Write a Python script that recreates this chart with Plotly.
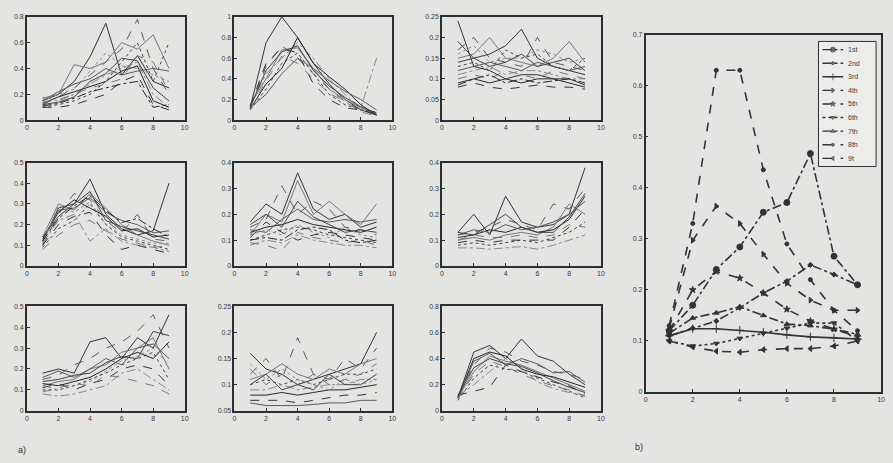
import plotly.graph_objects as go

W, H = 893, 463
x_steps = [1, 2, 3, 4, 5, 6, 7, 8, 9]

panel1 = [
    [0.15, 0.20, 0.30, 0.49, 0.75, 0.35, 0.50, 0.30, 0.25],
    [0.12, 0.18, 0.25, 0.35, 0.45, 0.55, 0.78, 0.40, 0.20],
    [0.17, 0.20, 0.43, 0.40, 0.45, 0.60, 0.55, 0.66, 0.40],
    [0.10, 0.12, 0.15, 0.20, 0.30, 0.45, 0.60, 0.30, 0.60],
    [0.18, 0.15, 0.20, 0.28, 0.35, 0.40, 0.45, 0.20, 0.10],
    [0.13, 0.18, 0.22, 0.26, 0.30, 0.38, 0.42, 0.15, 0.10],
    [0.10, 0.10, 0.12, 0.16, 0.20, 0.30, 0.35, 0.12, 0.08],
    [0.15, 0.22, 0.28, 0.32, 0.40, 0.35, 0.38, 0.40, 0.38],
    [0.14, 0.16, 0.20, 0.25, 0.28, 0.32, 0.50, 0.45, 0.22],
    [0.12, 0.14, 0.18, 0.30, 0.36, 0.48, 0.46, 0.25, 0.15],
    [0.16, 0.20, 0.24, 0.38, 0.52, 0.42, 0.40, 0.35, 0.30],
    [0.11, 0.13, 0.17, 0.22, 0.25, 0.28, 0.30, 0.10, 0.12],
]
panel2 = [
    [0.12, 0.75, 1.00, 0.80, 0.55, 0.35, 0.20, 0.10, 0.05],
    [0.12, 0.52, 0.72, 0.60, 0.45, 0.30, 0.18, 0.10, 0.05],
    [0.15, 0.40, 0.68, 0.70, 0.50, 0.30, 0.20, 0.12, 0.06],
    [0.10, 0.30, 0.55, 0.65, 0.45, 0.25, 0.15, 0.10, 0.08],
    [0.13, 0.45, 0.60, 0.75, 0.60, 0.40, 0.25, 0.12, 0.60],
    [0.11, 0.35, 0.50, 0.80, 0.55, 0.42, 0.30, 0.15, 0.05],
    [0.14, 0.55, 0.70, 0.65, 0.35, 0.20, 0.12, 0.10, 0.06],
    [0.12, 0.25, 0.45, 0.60, 0.50, 0.38, 0.28, 0.20, 0.10],
    [0.10, 0.38, 0.62, 0.55, 0.40, 0.26, 0.18, 0.08, 0.04],
    [0.13, 0.48, 0.66, 0.72, 0.48, 0.33, 0.22, 0.13, 0.07],
]
panel3 = [
    [0.19, 0.15, 0.16, 0.18, 0.22, 0.15, 0.13, 0.12, 0.11],
    [0.17, 0.20, 0.15, 0.14, 0.13, 0.20, 0.14, 0.13, 0.12],
    [0.15, 0.16, 0.20, 0.15, 0.14, 0.13, 0.15, 0.19, 0.14],
    [0.13, 0.14, 0.12, 0.17, 0.15, 0.16, 0.13, 0.12, 0.15],
    [0.11, 0.12, 0.13, 0.11, 0.12, 0.12, 0.11, 0.10, 0.10],
    [0.09, 0.10, 0.09, 0.10, 0.09, 0.10, 0.10, 0.09, 0.08],
    [0.08, 0.09, 0.08, 0.075, 0.08, 0.085, 0.08, 0.08, 0.075],
    [0.12, 0.13, 0.14, 0.13, 0.12, 0.14, 0.13, 0.12, 0.13],
    [0.10, 0.11, 0.10, 0.12, 0.11, 0.10, 0.12, 0.11, 0.10],
    [0.14, 0.15, 0.13, 0.14, 0.16, 0.13, 0.14, 0.15, 0.12],
    [0.16, 0.18, 0.14, 0.15, 0.15, 0.17, 0.16, 0.14, 0.15],
    [0.085, 0.10, 0.11, 0.09, 0.10, 0.09, 0.095, 0.10, 0.09],
    [0.24, 0.13, 0.12, 0.10, 0.11, 0.11, 0.10, 0.10, 0.085],
]
panel4 = [
    [0.12, 0.28, 0.30, 0.42, 0.25, 0.18, 0.15, 0.17, 0.40],
    [0.10, 0.25, 0.35, 0.32, 0.22, 0.16, 0.25, 0.13, 0.12],
    [0.14, 0.30, 0.27, 0.35, 0.28, 0.20, 0.15, 0.12, 0.10],
    [0.09, 0.18, 0.22, 0.30, 0.20, 0.14, 0.12, 0.10, 0.08],
    [0.11, 0.22, 0.25, 0.12, 0.18, 0.12, 0.10, 0.09, 0.07],
    [0.13, 0.26, 0.32, 0.28, 0.24, 0.17, 0.18, 0.14, 0.15],
    [0.10, 0.20, 0.24, 0.26, 0.15, 0.08, 0.10, 0.08, 0.06],
    [0.12, 0.27, 0.28, 0.33, 0.26, 0.22, 0.20, 0.16, 0.17],
    [0.08, 0.15, 0.20, 0.22, 0.17, 0.13, 0.11, 0.09, 0.10],
    [0.14, 0.24, 0.30, 0.36, 0.22, 0.19, 0.17, 0.15, 0.13],
    [0.11, 0.29, 0.26, 0.31, 0.20, 0.15, 0.13, 0.11, 0.11],
    [0.12, 0.23, 0.29, 0.34, 0.27, 0.21, 0.23, 0.18, 0.14],
]
panel5 = [
    [0.17, 0.24, 0.20, 0.36, 0.22, 0.18, 0.20, 0.15, 0.17],
    [0.15, 0.18, 0.31, 0.20, 0.25, 0.22, 0.15, 0.14, 0.12],
    [0.12, 0.20, 0.17, 0.33, 0.20, 0.25, 0.20, 0.16, 0.24],
    [0.10, 0.12, 0.14, 0.15, 0.14, 0.12, 0.11, 0.10, 0.09],
    [0.08, 0.10, 0.09, 0.12, 0.10, 0.09, 0.08, 0.08, 0.07],
    [0.13, 0.15, 0.16, 0.18, 0.16, 0.15, 0.14, 0.13, 0.15],
    [0.11, 0.17, 0.13, 0.10, 0.12, 0.13, 0.12, 0.11, 0.10],
    [0.14, 0.13, 0.18, 0.22, 0.18, 0.17, 0.18, 0.17, 0.18],
    [0.09, 0.08, 0.06, 0.13, 0.11, 0.10, 0.09, 0.10, 0.08],
    [0.16, 0.20, 0.15, 0.25, 0.19, 0.16, 0.13, 0.14, 0.13],
    [0.12, 0.14, 0.12, 0.16, 0.13, 0.11, 0.15, 0.12, 0.11],
    [0.10, 0.11, 0.10, 0.14, 0.15, 0.14, 0.10, 0.09, 0.10],
]
panel6 = [
    [0.13, 0.20, 0.12, 0.27, 0.17, 0.15, 0.16, 0.20, 0.38],
    [0.12, 0.13, 0.15, 0.18, 0.16, 0.14, 0.24, 0.22, 0.30],
    [0.10, 0.11, 0.10, 0.12, 0.13, 0.12, 0.15, 0.24, 0.20],
    [0.08, 0.09, 0.08, 0.09, 0.10, 0.09, 0.11, 0.13, 0.17],
    [0.07, 0.07, 0.065, 0.07, 0.075, 0.065, 0.08, 0.10, 0.12],
    [0.11, 0.12, 0.14, 0.13, 0.15, 0.13, 0.14, 0.18, 0.27],
    [0.09, 0.10, 0.09, 0.10, 0.10, 0.10, 0.10, 0.15, 0.22],
    [0.12, 0.14, 0.13, 0.16, 0.14, 0.15, 0.17, 0.20, 0.25],
    [0.10, 0.12, 0.11, 0.11, 0.12, 0.11, 0.12, 0.16, 0.15],
    [0.13, 0.12, 0.16, 0.20, 0.15, 0.13, 0.13, 0.19, 0.28],
]
panel7 = [
    [0.18, 0.20, 0.18, 0.33, 0.35, 0.25, 0.35, 0.30, 0.46],
    [0.15, 0.17, 0.22, 0.25, 0.30, 0.33, 0.38, 0.46, 0.30],
    [0.12, 0.14, 0.15, 0.20, 0.22, 0.28, 0.30, 0.35, 0.20],
    [0.10, 0.10, 0.12, 0.15, 0.18, 0.22, 0.25, 0.28, 0.15],
    [0.08, 0.07, 0.08, 0.10, 0.12, 0.18, 0.20, 0.15, 0.10],
    [0.13, 0.12, 0.14, 0.16, 0.20, 0.25, 0.28, 0.25, 0.33],
    [0.11, 0.13, 0.10, 0.13, 0.15, 0.20, 0.22, 0.20, 0.12],
    [0.16, 0.19, 0.16, 0.20, 0.25, 0.22, 0.30, 0.32, 0.25],
    [0.09, 0.11, 0.13, 0.12, 0.17, 0.16, 0.14, 0.12, 0.08],
    [0.14, 0.15, 0.17, 0.18, 0.23, 0.26, 0.25, 0.38, 0.36],
    [0.12, 0.10, 0.12, 0.14, 0.19, 0.24, 0.26, 0.30, 0.22],
]
panel8 = [
    [0.16, 0.13, 0.12, 0.10, 0.11, 0.12, 0.13, 0.14, 0.20],
    [0.12, 0.15, 0.11, 0.19, 0.12, 0.11, 0.15, 0.13, 0.17],
    [0.11, 0.12, 0.14, 0.12, 0.11, 0.13, 0.12, 0.14, 0.15],
    [0.10, 0.11, 0.10, 0.11, 0.10, 0.11, 0.12, 0.12, 0.13],
    [0.09, 0.09, 0.10, 0.09, 0.095, 0.10, 0.10, 0.11, 0.11],
    [0.08, 0.08, 0.085, 0.08, 0.085, 0.09, 0.09, 0.095, 0.10],
    [0.07, 0.07, 0.07, 0.065, 0.07, 0.075, 0.08, 0.08, 0.085],
    [0.065, 0.06, 0.06, 0.06, 0.062, 0.065, 0.065, 0.07, 0.07],
    [0.13, 0.10, 0.12, 0.10, 0.12, 0.10, 0.11, 0.12, 0.14],
    [0.10, 0.12, 0.09, 0.10, 0.09, 0.12, 0.10, 0.10, 0.12],
    [0.14, 0.11, 0.13, 0.11, 0.10, 0.09, 0.11, 0.10, 0.11],
]
panel9 = [
    [0.10, 0.45, 0.50, 0.40, 0.55, 0.42, 0.38, 0.28, 0.20],
    [0.12, 0.35, 0.48, 0.45, 0.38, 0.35, 0.30, 0.28, 0.24],
    [0.10, 0.30, 0.42, 0.38, 0.35, 0.30, 0.25, 0.20, 0.15],
    [0.08, 0.25, 0.35, 0.32, 0.30, 0.25, 0.20, 0.15, 0.10],
    [0.11, 0.20, 0.30, 0.40, 0.33, 0.22, 0.17, 0.14, 0.12],
    [0.10, 0.40, 0.45, 0.42, 0.32, 0.28, 0.26, 0.22, 0.18],
    [0.12, 0.15, 0.18, 0.35, 0.30, 0.26, 0.22, 0.19, 0.13],
    [0.10, 0.38, 0.44, 0.35, 0.40, 0.36, 0.29, 0.30, 0.22],
    [0.09, 0.28, 0.38, 0.34, 0.28, 0.23, 0.19, 0.16, 0.11],
    [0.11, 0.33, 0.40, 0.36, 0.34, 0.29, 0.23, 0.18, 0.14],
]
panels = [panel1, panel2, panel3, panel4, panel5, panel6, panel7, panel8, panel9]
y_ranges = [[0, 0.8], [0, 1], [0, 0.25], [0, 0.5], [0, 0.4], [0, 0.4], [0, 0.5], [0.05, 0.25], [0, 0.8]]
y_dticks = [0.2, 0.2, 0.05, 0.1, 0.1, 0.1, 0.1, 0.05, 0.2]

# panel b
legend_names = ["1st", "2nd", "3rd", "4th", "5th", "6th", "7th", "8th", "9t"]
b_series = [
    [0.12, 0.17, 0.24, 0.284, 0.352, 0.371, 0.467, 0.266, 0.21],
    [0.11, 0.125, 0.139, 0.165, 0.194, 0.217, 0.249, 0.23, 0.21],
    [0.11, 0.124, 0.124, 0.121, 0.117, 0.112, 0.108, 0.106, 0.104],
    [0.125, 0.297, 0.364, 0.33, 0.27, 0.213, 0.18, 0.16, 0.16],
    [0.12, 0.20, 0.236, 0.223, 0.194, 0.162, 0.139, 0.123, 0.108],
    [0.10, 0.09, 0.095, 0.105, 0.115, 0.125, 0.135, 0.135, 0.10],
    [0.115, 0.145, 0.155, 0.167, 0.15, 0.133, 0.13, 0.123, 0.113],
    [0.13, 0.33, 0.63, 0.63, 0.435, 0.29, 0.22, 0.16, 0.12],
    [0.10, 0.088, 0.08, 0.078, 0.083, 0.085, 0.085, 0.09, 0.10],
]
b_dash = ["dashdot", "dashdot", "solid", "dash", "dash", "dot", "dashdot", "dash", "dash"]
b_symbol = ["circle", "diamond", "cross-thin-open", "triangle-right", "star",
            "triangle-down", "triangle-up", "circle", "triangle-left"]
b_msize = [6, 4, 6, 5, 5, 5, 5, 4, 5]

BG = "#e4e4e2"
AX = "#2e2e2e"
FONT = "Liberation Sans, Arial, sans-serif"
TXT = "#3a3a3a"

col_px = [(25, 184), (234, 393), (443, 603)]
row_px = [(13, 118), (161, 266), (307, 413)]

gray_cols = ["#333333", "#5a5a5a", "#777777", "#444444", "#888888", "#262626"]
dashes = ["solid", "dash", "solid", "dot", "dashdot", "solid", "dash"]

fig = go.Figure()
layout = dict(width=W, height=H, margin=dict(l=0, r=0, t=0, b=0),
              paper_bgcolor=BG, plot_bgcolor="rgba(0,0,0,0)", showlegend=False,
              font=dict(family=FONT, size=7, color=TXT))

def axis_style():
    return dict(showline=True, linecolor=AX, linewidth=1.5, mirror=True,
                ticks="inside", ticklen=3, tickcolor=AX, tickwidth=1,
                showgrid=False, zeroline=False, ticklabeloverflow="allow",
                tickfont=dict(family=FONT, size=7, color=TXT))

for i, panel in enumerate(panels):
    r, c = divmod(i, 3)
    n = i + 1
    xa = axis_style()
    xa.update(domain=[col_px[c][0] / W, col_px[c][1] / W], range=[0, 10],
              tickvals=[0, 2, 4, 6, 8, 10], anchor="y%d" % n)
    ya = axis_style()
    ya.update(domain=[1 - row_px[r][1] / H, 1 - row_px[r][0] / H], range=y_ranges[i],
              dtick=y_dticks[i], tick0=0, anchor="x%d" % n)
    layout["xaxis%d" % n] = xa
    layout["yaxis%d" % n] = ya
    for k, ys in enumerate(panel):
        fig.add_trace(go.Scatter(
            x=x_steps, y=ys, mode="lines", xaxis="x%d" % n, yaxis="y%d" % n,
            line=dict(color=gray_cols[k % len(gray_cols)], width=1.0,
                      dash=dashes[k % len(dashes)]),
            showlegend=False, hoverinfo="skip"))

xb = axis_style()
xb.update(domain=[648 / W, 885 / W], range=[0, 10], tickvals=[0, 2, 4, 6, 8, 10], anchor="y10")
yb = axis_style()
yb.update(domain=[1 - 394 / H, 1 - 31 / H], range=[0, 0.7], dtick=0.1, tick0=0, anchor="x10")
layout["xaxis10"] = xb
layout["yaxis10"] = yb

for k, ys in enumerate(b_series):
    fig.add_trace(go.Scatter(
        x=x_steps, y=ys, mode="lines+markers", xaxis="x10", yaxis="y10",
        name=legend_names[k],
        line=dict(color="#333333", width=1.6, dash=b_dash[k]),
        marker=dict(symbol=b_symbol[k], size=b_msize[k], color="#333333",
                    line=dict(color="#333333", width=1))))

# compact legend box (keys on a hidden helper axis: one row per series)
lx0, lx1, ly0, ly1 = 822, 880, 38, 165
layout["xaxis11"] = dict(domain=[lx0 / W, lx1 / W], range=[0, 1], visible=False,
                         anchor="y11", fixedrange=True)
layout["yaxis11"] = dict(domain=[1 - ly1 / H, 1 - ly0 / H], range=[len(legend_names) - 0.4, -0.6],
                         visible=False, anchor="x11", fixedrange=True)
shapes = [dict(type="rect", xref="paper", yref="paper", x0=lx0 / W, x1=lx1 / W,
               y0=1 - ly1 / H, y1=1 - ly0 / H, fillcolor="#ececea",
               line=dict(color=AX, width=1), layer="below")]
annotations = []
key_x = [0.07, 0.25, 0.43]
for k, name in enumerate(legend_names):
    fig.add_trace(go.Scatter(
        x=key_x, y=[k] * 3, mode="lines+markers", xaxis="x11", yaxis="y11",
        line=dict(color="#333333", width=1.4, dash=b_dash[k]),
        marker=dict(symbol=b_symbol[k], size=[0, b_msize[k] - 1, 0], color="#333333",
                    line=dict(color="#333333", width=1)),
        showlegend=False, hoverinfo="skip"))
    annotations.append(dict(text=name, x=0.47, y=k, xref="x11", yref="y11",
                            xanchor="left", yanchor="middle", showarrow=False,
                            font=dict(family=FONT, size=7, color=TXT)))

annotations += [
    dict(text="a)", x=14 / W, y=1 - 453 / H, xref="paper", yref="paper",
         xanchor="left", yanchor="middle", showarrow=False,
         font=dict(family=FONT, size=9, color="#333")),
    dict(text="b)", x=635 / W, y=1 - 450 / H, xref="paper", yref="paper",
         xanchor="left", yanchor="middle", showarrow=False,
         font=dict(family=FONT, size=9, color="#333")),
]
layout["shapes"] = shapes
layout["annotations"] = annotations
fig.update_layout(**layout)
fig.write_html("out.html", config={"displayModeBar": False}, post_script=(
    "document.body.style.margin='0';"
    "document.body.style.background='" + BG + "';"
    "document.body.style.overflow='hidden';"))
